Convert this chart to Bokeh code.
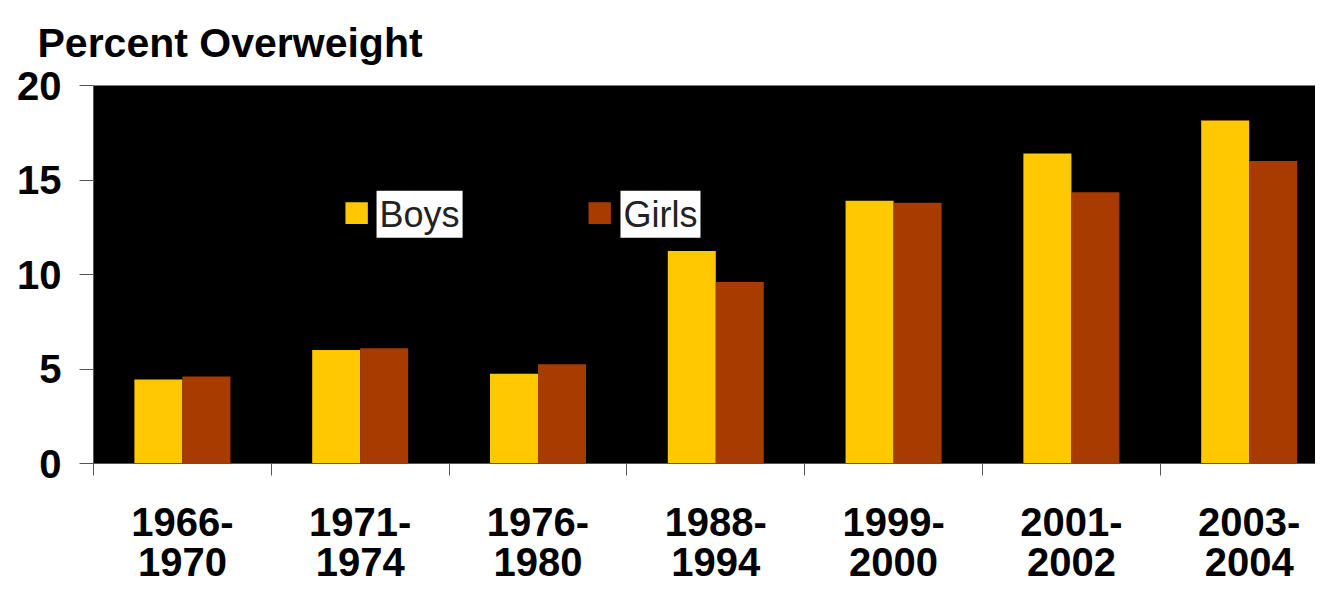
from bokeh.plotting import figure
from bokeh.models import Range1d, FixedTicker, Label, BoxAnnotation, LinearAxis
from bokeh.embed import file_html
from bokeh.resources import INLINE
import numpy as np

title_text = "Percent Overweight"
periods_top = ["1966-", "1971-", "1976-", "1988-", "1999-", "2001-", "2003-"]
periods_bottom = ["1970", "1974", "1980", "1994", "2000", "2002", "2004"]
boys = [4.45, 6.0, 4.75, 11.25, 13.9, 16.4, 18.15]
girls = [4.6, 6.1, 5.25, 9.6, 13.8, 14.35, 16.0]
y_ticks = [0, 5, 10, 15, 20]

BOYS_C = "#FFC800"
GIRLS_C = "#A83C00"
FONT = "Liberation Sans"
AX_C = "#555555"
W, H = 1315, 584

n = len(periods_top)
centers = np.arange(n) + 0.5
bw = 0.27

p = figure(width=W, height=H, output_backend="svg", toolbar_location=None,
           x_range=Range1d(0, 6.873), y_range=Range1d(0, 20),
           min_border_left=93, min_border_right=0, min_border_top=85, min_border_bottom=121,
           background_fill_color="black", border_fill_color="white",
           title=title_text)
p.outline_line_color = None
p.grid.visible = False

p.title.text_font = FONT
p.title.text_font_style = "bold"
p.title.text_font_size = "41px"
p.title.text_color = "black"
p.title.align = "left"
p.title.vertical_align = "top"
p.title.offset = -56
p.title.standoff = 35

p.vbar(x=centers - bw / 2, top=boys, width=bw, fill_color=BOYS_C, line_color=None)
p.vbar(x=centers + bw / 2, top=girls, width=bw, fill_color=GIRLS_C, line_color=None)

# first line of period labels, with separator ticks between periods
xa = p.xaxis[0]
xa.ticker = FixedTicker(ticks=list(centers), minor_ticks=list(np.arange(n + 1)))
xa.major_label_overrides = {float(c): lab for c, lab in zip(centers, periods_top)}
xa.major_tick_line_color = None
xa.major_tick_in = 0
xa.major_tick_out = 0
xa.minor_tick_line_color = AX_C
xa.minor_tick_in = 0
xa.minor_tick_out = 12
xa.axis_line_color = AX_C
xa.major_label_text_font = FONT
xa.major_label_text_font_style = "bold"
xa.major_label_text_font_size = "40px"
xa.major_label_text_color = "black"
xa.major_label_standoff = 32

# second line of period labels
xb = LinearAxis(ticker=FixedTicker(ticks=list(centers), minor_ticks=[]))
xb.major_label_overrides = {float(c): lab for c, lab in zip(centers, periods_bottom)}
xb.major_tick_line_color = None
xb.major_tick_in = 0
xb.major_tick_out = 0
xb.minor_tick_line_color = None
xb.axis_line_color = None
xb.major_label_text_font = FONT
xb.major_label_text_font_style = "bold"
xb.major_label_text_font_size = "40px"
xb.major_label_text_color = "black"
xb.major_label_standoff = 9
p.add_layout(xb, "below")

ya = p.yaxis[0]
ya.ticker = FixedTicker(ticks=y_ticks, minor_ticks=[])
ya.major_tick_in = 0
ya.major_tick_out = 14
ya.major_tick_line_color = AX_C
ya.axis_line_color = AX_C
ya.major_label_text_font = FONT
ya.major_label_text_font_style = "bold"
ya.major_label_text_font_size = "40px"
ya.major_label_text_color = "black"
ya.major_label_standoff = 18

# legend keys and labels
legend_items = [("Boys", BOYS_C, 1.417, 1.592), ("Girls", GIRLS_C, 2.784, 2.964)]
for name, col, kx, lx in legend_items:
    p.add_layout(BoxAnnotation(left=kx, right=kx + 0.126, bottom=12.67, top=13.82,
                               fill_color=col, fill_alpha=1, line_color=None))
    p.add_layout(Label(x=lx, y=13.19, text=name, text_baseline="middle",
                       text_font=FONT, text_font_size="36px", text_color="#222222",
                       background_fill_color="white", padding=3))

open("out.html", "w").write(file_html(p, INLINE))
